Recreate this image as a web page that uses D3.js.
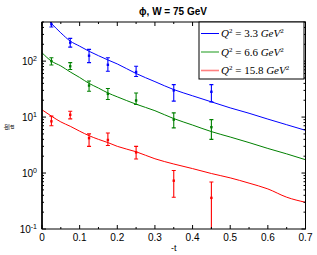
<!DOCTYPE html>
<html>
<head>
<meta charset="utf-8">
<script src="https://cdn.jsdelivr.net/npm/d3@7"></script>
<style>
  body { margin: 0; background: #fff; }
  svg { display: block; }
</style>
</head>
<body>
<div id="chart"></div>
<script>
// measured -t bins
const tPoints = [0.025, 0.075, 0.125, 0.175, 0.25, 0.35, 0.45];

const q33Values = [455, 214, 125, 86, 64, 30, 28.3];
const q33Low = [406, 178, 94, 66, 53, 19.3, 18.7];
const q33High = [560, 255, 162, 115, 81, 38, 38];

const q66Values = [100, 81, 36.6, 26, 19.8, 9.0, 6.6];
const q66Low = [85, 71, 29, 20.6, 16.8, 6.4, 4.0];
const q66High = [115, 94, 44, 32.4, 27, 11.9, 9.0];

const q158Values = [8.4, 11, 4.2, 3.9, 2.34, 0.73, 0.36];
const q158Low = [7, 9.3, 3.0, 3.1, 1.78, 0.37, 0.05];
const q158High = [10.4, 12.7, 5.0, 5.2, 3.0, 1.11, 0.69];

// model curves
const tCurve = [0, 0.025, 0.05, 0.075, 0.1, 0.125, 0.15, 0.175, 0.2, 0.25, 0.3, 0.35, 0.4, 0.45, 0.5, 0.55, 0.6, 0.65, 0.7];
const q33Curve = [700, 470, 320, 228, 185, 150, 125, 105, 89, 60, 43, 31, 24, 18.7, 14.6, 11.7, 9.2, 7.3, 5.8];
const q66Curve = [141, 100, 82, 64, 51, 40, 33, 27, 23, 17, 13, 9.4, 7.2, 5.5, 4.4, 3.5, 2.75, 2.2, 1.73];
const q158Curve = [13.5, 10.4, 8.2, 6.85, 5.6, 4.65, 4.0, 3.5, 3.0, 2.4, 1.8, 1.45, 1.2, 0.98, 0.82, 0.66, 0.52, 0.37, 0.30];

const seriesLabels = ["3.3", "6.6", "15.8"];
const seriesColors = ["#0000ff", "#008000", "#ff0000"];
const legendColors = ["#0000ff", "#6fbf6f", "#ff8080"];

const xTicks = [0, 0.1, 0.2, 0.3, 0.4, 0.5, 0.6, 0.7];
const yTickExps = [-1, 0, 1, 2];

const width = 317, height = 255;
const margin = { top: 22, right: 11.5, bottom: 26, left: 42 };

const svg = d3.select("#chart").append("svg")
  .attr("width", width)
  .attr("height", height);

const x = d3.scaleLinear().domain([0, 0.7]).range([margin.left, width - margin.right]);
const y = d3.scaleLog().domain([0.1, 500]).range([height - margin.bottom, margin.top]);

svg.append("clipPath").attr("id", "plotClip")
  .append("rect")
  .attr("x", margin.left).attr("y", margin.top)
  .attr("width", x(0.7) - x(0)).attr("height", y(0.1) - y(500));

const plot = svg.append("g").attr("clip-path", "url(#plotClip)");

const series = [
  { vals: q33Values, lo: q33Low, hi: q33High, curve: q33Curve },
  { vals: q66Values, lo: q66Low, hi: q66High, curve: q66Curve },
  { vals: q158Values, lo: q158Low, hi: q158High, curve: q158Curve }
];

const line = d3.line()
  .x(d => x(d[0]))
  .y(d => y(d[1]))
  .curve(d3.curveMonotoneX);

series.forEach((s, k) => {
  const color = seriesColors[k];
  plot.append("path")
    .datum(tCurve.map((t, i) => [t, s.curve[i]]))
    .attr("d", line)
    .attr("fill", "none")
    .attr("stroke", color)
    .attr("stroke-width", 1);

  const pts = tPoints.map((t, i) => ({ t, v: s.vals[i], lo: s.lo[i], hi: s.hi[i] }));
  const g = plot.append("g").attr("stroke", color).attr("stroke-width", 1.1);

  g.selectAll(".bar").data(pts).enter().append("line")
    .attr("x1", d => x(d.t)).attr("x2", d => x(d.t))
    .attr("y1", d => y(d.lo)).attr("y2", d => y(d.hi));
  g.selectAll(".capHi").data(pts).enter().append("line")
    .attr("x1", d => x(d.t) - 2).attr("x2", d => x(d.t) + 2)
    .attr("y1", d => y(d.hi)).attr("y2", d => y(d.hi));
  g.selectAll(".capLo").data(pts).enter().append("line")
    .attr("x1", d => x(d.t) - 2).attr("x2", d => x(d.t) + 2)
    .attr("y1", d => y(d.lo)).attr("y2", d => y(d.lo));

  plot.append("g").selectAll("rect").data(pts).enter().append("rect")
    .attr("x", d => x(d.t) - 1.2).attr("y", d => y(d.v) - 1.2)
    .attr("width", 2.4).attr("height", 2.4)
    .attr("fill", color);
});

// frame and ticks
const axes = svg.append("g").attr("stroke", "#000").attr("fill", "none");
axes.append("rect")
  .attr("x", x(0)).attr("y", y(500))
  .attr("width", x(0.7) - x(0)).attr("height", y(0.1) - y(500))
  .attr("stroke-width", 1);
axes.append("line")
  .attr("x1", x(0)).attr("x2", x(0)).attr("y1", y(500)).attr("y2", y(0.1))
  .attr("stroke-width", 1.6);

const xMinor = d3.range(0, 0.7001, 0.05);
xMinor.forEach(t => {
  const len = xTicks.some(v => Math.abs(v - t) < 1e-6) ? 4 : 2;
  axes.append("line").attr("x1", x(t)).attr("x2", x(t)).attr("y1", y(0.1)).attr("y2", y(0.1) - len);
  axes.append("line").attr("x1", x(t)).attr("x2", x(t)).attr("y1", y(500)).attr("y2", y(500) + len);
});

const yMinor = [];
[-1, 0, 1, 2].forEach(e => {
  for (let m = 1; m <= 9; m++) {
    const v = m * Math.pow(10, e);
    if (v <= 500) yMinor.push({ v, major: m === 1 });
  }
});
yMinor.forEach(d => {
  const len = d.major ? 4 : 2;
  axes.append("line").attr("x1", x(0)).attr("x2", x(0) + len).attr("y1", y(d.v)).attr("y2", y(d.v));
  axes.append("line").attr("x1", x(0.7)).attr("x2", x(0.7) - len).attr("y1", y(d.v)).attr("y2", y(d.v));
});

const labelFont = "'Liberation Sans', Arial, sans-serif";

svg.append("g").selectAll("text").data(xTicks).enter().append("text")
  .attr("x", d => x(d)).attr("y", y(0.1) + 12)
  .attr("text-anchor", "middle")
  .style("font-family", labelFont).style("font-size", "10px")
  .text(d => d3.format("")(d));

const yLab = svg.append("g").selectAll("text").data(yTickExps).enter().append("text")
  .attr("x", x(0) - 5).attr("y", d => y(Math.pow(10, d)) + 4)
  .attr("text-anchor", "end")
  .style("font-family", labelFont).style("font-size", "10px");
yLab.append("tspan").text("10");
yLab.append("tspan").attr("dy", -4).style("font-size", "7px").text(d => d);

svg.append("text")
  .attr("x", 173).attr("y", 15)
  .attr("text-anchor", "middle")
  .style("font-family", labelFont).style("font-size", "10px").style("font-weight", "bold")
  .text("ϕ,  W = 75 GeV");

svg.append("text")
  .attr("x", x(0.35)).attr("y", 251)
  .attr("text-anchor", "middle")
  .style("font-family", labelFont).style("font-size", "9px")
  .text("-t");

// y label: d sigma / dt, small rotated fraction
const yl = svg.append("g").attr("transform", "translate(9,127) rotate(-90)");
yl.append("text").attr("x", 0).attr("y", -1.5).attr("text-anchor", "middle")
  .style("font-family", labelFont).style("font-size", "5.5px").text("dσ");
yl.append("line").attr("x1", -3).attr("x2", 3).attr("y1", 0).attr("y2", 0)
  .attr("stroke", "#000").attr("stroke-width", 0.5);
yl.append("text").attr("x", 0).attr("y", 5).attr("text-anchor", "middle")
  .style("font-family", labelFont).style("font-size", "5.5px").text("dt");

// legend
const legend = svg.append("g");
legend.append("rect")
  .attr("x", 199).attr("y", 22).attr("width", 105).attr("height", 57)
  .attr("fill", "#fff").attr("stroke", "#000").attr("stroke-width", 1);
const serif = "'Liberation Serif', 'Times New Roman', serif";
seriesLabels.forEach((lab, k) => {
  const ly = 33.5 + k * 18.5;
  legend.append("line")
    .attr("x1", 201).attr("x2", 219).attr("y1", ly).attr("y2", ly)
    .attr("stroke", legendColors[k]).attr("stroke-width", k === 0 ? 1 : 1.6);
  const t = legend.append("text")
    .attr("x", 221).attr("y", ly + 3.5)
    .style("font-family", serif).style("font-size", "11px");
  t.append("tspan").style("font-style", "italic").text("Q");
  t.append("tspan").attr("dy", -4).style("font-size", "7px").text("2");
  t.append("tspan").attr("dy", 4).text(" = " + lab + " ");
  t.append("tspan").style("font-style", "italic").text("GeV");
  t.append("tspan").attr("dy", -4).style("font-size", "7px").text("2");
});
</script>
</body>
</html>
